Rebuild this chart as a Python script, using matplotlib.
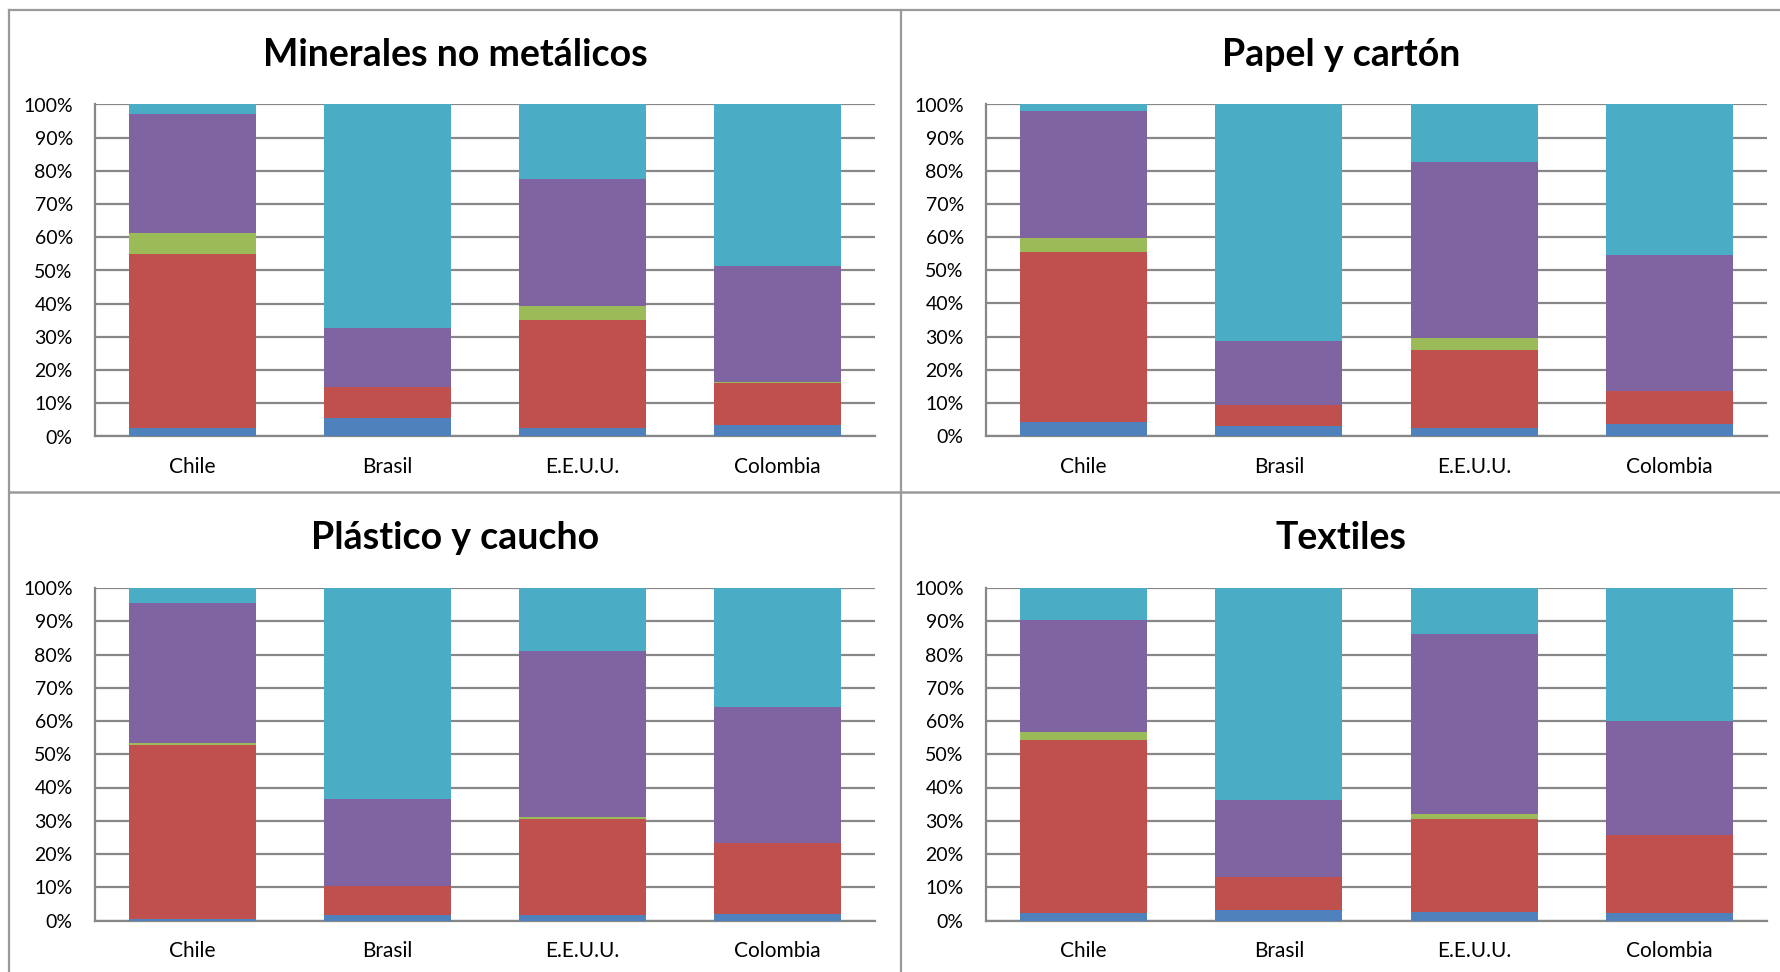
import matplotlib
matplotlib.use("Agg")
import matplotlib.pyplot as plt
from matplotlib.lines import Line2D
from matplotlib.ticker import PercentFormatter
import numpy as np

plt.rcParams['font.family'] = ['Lato', 'DejaVu Sans']

countries = ["Chile", "Brasil", "E.E.U.U.", "Colombia"]
y_ticks = [0, 10, 20, 30, 40, 50, 60, 70, 80, 90, 100]

# Shares (%) of each segment, per sector, in the order: Chile, Brasil, E.E.U.U., Colombia
minerales_azul    = [2.7, 5.5, 2.5, 3.4]
minerales_rojo    = [52.4, 9.3, 32.6, 12.6]
minerales_verde   = [6.3, 0.0, 4.2, 0.3]
minerales_morado  = [35.7, 17.8, 38.4, 35.2]
minerales_celeste = [2.9, 67.4, 22.3, 48.5]

papel_azul    = [4.3, 2.9, 2.5, 3.7]
papel_rojo    = [51.2, 6.6, 23.5, 10.0]
papel_verde   = [4.2, 0.0, 3.7, 0.0]
papel_morado  = [38.4, 19.1, 53.0, 41.0]
papel_celeste = [1.9, 71.4, 17.3, 45.3]

plastico_azul    = [0.6, 1.8, 1.8, 1.9]
plastico_rojo    = [52.3, 8.6, 28.6, 21.5]
plastico_verde   = [0.6, 0.0, 0.6, 0.0]
plastico_morado  = [41.9, 26.1, 50.2, 40.8]
plastico_celeste = [4.6, 63.5, 18.8, 35.8]

textiles_azul    = [2.4, 3.2, 2.7, 2.2]
textiles_rojo    = [52.0, 10.0, 27.9, 23.5]
textiles_verde   = [2.2, 0.0, 1.5, 0.0]
textiles_morado  = [33.8, 23.0, 54.0, 34.3]
textiles_celeste = [9.6, 63.8, 13.9, 40.0]

segment_colors = ["#4F81BD", "#C0504D", "#9BBB59", "#8064A2", "#4BACC6"]

panels = [
    ("Minerales no metálicos",
     [minerales_azul, minerales_rojo, minerales_verde, minerales_morado, minerales_celeste]),
    ("Papel y cartón",
     [papel_azul, papel_rojo, papel_verde, papel_morado, papel_celeste]),
    ("Plástico y caucho",
     [plastico_azul, plastico_rojo, plastico_verde, plastico_morado, plastico_celeste]),
    ("Textiles",
     [textiles_azul, textiles_rojo, textiles_verde, textiles_morado, textiles_celeste]),
]

W, H = 1781, 972
fig = plt.figure(figsize=(W / 100, H / 100), dpi=100)

# plot areas in pixels: left, right, top, bottom
areas = [
    (95, 875, 104.5, 436.5),
    (986, 1767, 104.5, 436),
    (95, 875, 588, 920.5),
    (986, 1767, 588, 920.5),
]
title_centers = [(455, 55), (1341, 55), (455, 538), (1341, 538)]

grid_color = "#878787"

for (title, series), (l, r, t, b), (tx, ty) in zip(panels, areas, title_centers):
    ax = fig.add_axes([l / W, 1 - b / H, (r - l) / W, (b - t) / H])
    x = np.arange(len(countries))
    bottom = np.zeros(len(countries))
    for vals, col in zip(series, segment_colors):
        v = np.array(vals)
        ax.bar(x, v, width=0.65, bottom=bottom, color=col, edgecolor="none", zorder=3)
        bottom += v
    ax.set_xlim(-0.5, len(countries) - 0.5)
    ax.set_ylim(0, 100)
    ax.set_yticks(y_ticks)
    ax.yaxis.set_major_formatter(PercentFormatter(decimals=0))
    ax.set_xticks(x)
    ax.set_xticklabels(countries)
    ax.grid(axis="y", color=grid_color, linewidth=1.6, zorder=1)
    ax.tick_params(axis="both", length=0, colors="black")
    ax.tick_params(axis="y", pad=16, labelsize=14)
    ax.tick_params(axis="x", pad=15, labelsize=15)
    for side in ("top", "right"):
        ax.spines[side].set_visible(False)
    ax.spines["left"].set_color(grid_color)
    ax.spines["left"].set_linewidth(1.6)
    ax.spines["bottom"].set_color(grid_color)
    ax.spines["bottom"].set_linewidth(1.6)
    ax.set_axisbelow(True)
    fig.text(tx / W, 1 - ty / H, title, ha="center", va="center",
             fontsize=27, fontweight="bold")

# panel frames
frame_color = "#9a9a9a"
def frame_line(xs, ys, lw=1.6):
    fig.add_artist(Line2D([v / W for v in xs], [1 - v / H for v in ys],
                          color=frame_color, linewidth=lw))

frame_line([9, W], [10, 10])
frame_line([9, 9], [10, H])
frame_line([901, 901], [10, H])
frame_line([9, W], [492.5, 492.5], lw=1.8)

fig.savefig("out.png", dpi=100, facecolor="white")
